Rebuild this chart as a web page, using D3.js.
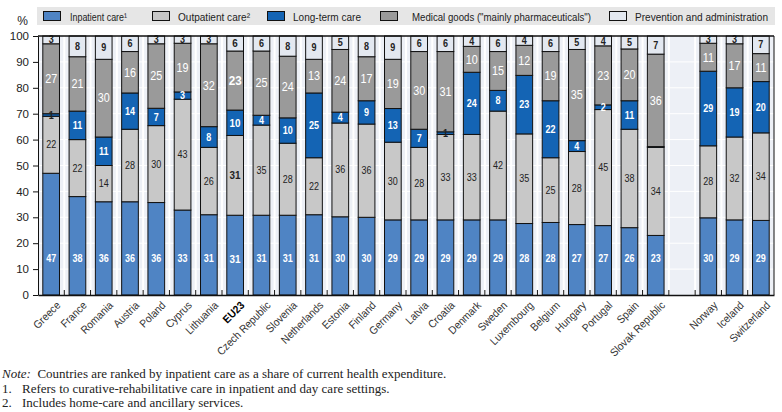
<!DOCTYPE html>
<html><head><meta charset="utf-8">
<script src="https://cdn.jsdelivr.net/npm/d3@7"></script>
<style>
body{margin:0;background:#fff}
svg{display:block}
.sans{font-family:"Liberation Sans",Arial,sans-serif}
.serif{font-family:"Liberation Serif","Times New Roman",serif}
</style>
</head><body>
<svg id="chart" width="782" height="412"></svg>
<script>
// ---- data (shares of current health expenditure, %) ----
const countries = ["Greece","France","Romania","Austria","Poland","Cyprus","Lithuania","EU23","Czech Republic","Slovenia","Netherlands","Estonia","Finland","Germany","Latvia","Croatia","Denmark","Sweden","Luxembourg","Belgium","Hungary","Portugal","Spain","Slovak Republic","","Norway","Iceland","Switzerland"];
const inpatient   = [47,38,36,36,35.7,32.8,31,30.8,30.8,30.8,31,30.2,30,29,29,29,29,29,27.6,28,27.2,26.8,26,23,null,29.8,29,28.8];
const outpatient  = [22,22,14,28,29.7,42.8,26,30.8,34.8,27.8,22,36.2,36,30,28,33,33,42,34.6,25,28.2,44.8,38,34,null,27.8,32,33.8];
const longTerm    = [1,11,11,14,6.7,2.8,8,9.8,3.8,9.8,25,4.2,9,13,7,1,24,8,22.6,22,4.2,1.8,11,0.3,null,28.8,19,19.8];
const medicalGoods= [27,21,30,16,24.9,18.8,32,22.8,24.8,23.8,13,24.2,17,19,30,31,10,15,11.6,19,35.2,22.8,20,35.7,null,10.8,17,10.8];
const prevention  = [3,8,9,6,3,2.8,3,5.8,5.8,7.8,9,5.2,8,9,6,6,4,6,3.6,6,5.2,3.8,5,7,null,2.8,3,6.8];
const seriesKeys  = ["inpatient","outpatient","longTerm","medicalGoods","prevention"];
const seriesNames = ["Inpatient care\u00B9","Outpatient care\u00B2","Long-term care","Medical goods (\"mainly pharmaceuticals\")","Prevention and administration"];
const seriesColors= ["#4f84c4","#c8c8c8","#1464b4","#9a9a9a","#e3e8f0"];
const labelColors = ["#ffffff","#222222","#ffffff","#ffffff","#222222"];
const yTicks = [0,10,20,30,40,50,60,70,80,90,100];
const highlight = "EU23";
const noteLines = [
  ["Note:","  Countries are ranked by inpatient care as a share of current health expenditure."],
  ["1.","Refers to curative-rehabilitative care in inpatient and day care settings."],
  ["2.","Includes home-care and ancillary services."]
];

// ---- build rows ----
const series = {inpatient, outpatient, longTerm, medicalGoods, prevention};
const rows = countries.map((c,i)=>{
  const r = {idx:i, country:c};
  seriesKeys.forEach(k=> r[k] = series[k][i]);
  return r;
}).filter(r=> r.inpatient !== null);

const svg = d3.select("#chart");
const L = 38, R = 774, T = 36, B = 295;

const x = d3.scaleBand().domain(countries.map((c,i)=>i)).range([L,R]).paddingInner(0.365).paddingOuter(0.1825);
const y = d3.scaleLinear().domain([0,100]).range([B,T]).clamp(true);
const step = x.step();

// plot background
svg.append("rect").attr("x",L).attr("y",T).attr("width",R-L).attr("height",B-T).attr("fill","#edf0f6");
const bounds = d3.range(1,countries.length).map(i=> L + i*step);
svg.append("g").selectAll("line").data(bounds).join("line")
  .attr("x1",d=>d).attr("x2",d=>d).attr("y1",T).attr("y2",B)
  .attr("stroke","#ffffff").attr("stroke-width",2);
svg.append("g").selectAll("line").data(yTicks.filter(t=>t>0&&t<100)).join("line")
  .attr("x1",L).attr("x2",R).attr("y1",d=>y(d)).attr("y2",d=>y(d))
  .attr("stroke","#ffffff").attr("stroke-width",1);

// stacks
const stack = d3.stack().keys(seriesKeys)(rows);
const gBars = svg.append("g");
stack.forEach((layer,li)=>{
  gBars.append("g").selectAll("rect").data(layer).join("rect")
    .attr("x",d=>x(d.data.idx))
    .attr("width",x.bandwidth())
    .attr("y",d=>y(d[1]))
    .attr("height",d=>Math.max(0,y(d[0])-y(d[1])))
    .attr("fill",seriesColors[li])
    .attr("stroke","#111")
    .attr("stroke-width",1);
});

// value labels
const fmt = d3.format(".0f");
const sizes = [10,10,10,12,10];
const weights = ["bold","normal","bold","normal","bold"];
const gLab = svg.append("g").attr("class","sans").attr("text-anchor","middle");
stack.forEach((layer,li)=>{
  layer.forEach(d=>{
    const v = d[1]-d[0];
    if (Math.round(v) < 1) return;
    const isHi = d.data.country === highlight;
    const cx = x(d.data.idx)+x.bandwidth()/2;
    const cy = li===0 ? y(14) : (y(d[0])+y(d[1]))/2;
    let color = labelColors[li];
    if (li===2 && v < 1.5) color = "#222";
    gLab.append("text")
      .attr("x", cx)
      .attr("y", cy)
      .attr("dy","0.36em")
      .attr("font-size", isHi ? sizes[li]+1 : sizes[li])
      .attr("font-weight", isHi ? "bold" : weights[li])
      .attr("fill", color)
      .attr("transform", `translate(${cx},0) scale(0.9,1) translate(${-cx},0)`)
      .text(fmt(v));
  });
});

// frame lines
svg.append("line").attr("x1",L).attr("x2",R).attr("y1",T).attr("y2",T).attr("stroke","#111").attr("stroke-width",1.5);
svg.append("line").attr("x1",R).attr("x2",R).attr("y1",T).attr("y2",B).attr("stroke","#111").attr("stroke-width",1);

// y axis
const yAxis = svg.append("g").attr("transform",`translate(${L},0)`).attr("class","sans")
  .call(d3.axisLeft(y).tickValues(yTicks).tickSize(5).tickSizeOuter(0).tickPadding(4));
yAxis.selectAll("text").attr("font-size",11.5).attr("fill","#222").attr("font-family",null);
yAxis.selectAll("line,path").attr("stroke","#111");

// x axis
const xAxis = svg.append("g").attr("transform",`translate(0,${B})`).attr("class","sans")
  .call(d3.axisBottom(x).tickFormat(i=>countries[i]).tickSize(0).tickSizeOuter(0));
xAxis.select(".domain").attr("stroke","#111").attr("stroke-width",1.5);
xAxis.selectAll("text")
  .attr("font-family",null)
  .attr("font-size",11)
  .attr("fill",i=>countries[i]===highlight ? "#000" : "#333")
  .attr("font-weight",i=>countries[i]===highlight ? "bold" : "normal")
  .attr("text-anchor","end")
  .attr("transform","translate(4,5) rotate(-45) scale(0.92,1)")
  .attr("dy","0.5em").attr("dx","0");
svg.append("g").selectAll("line").data(bounds).join("line")
  .attr("x1",d=>d).attr("x2",d=>d).attr("y1",B-5).attr("y2",B)
  .attr("stroke","#111").attr("stroke-width",1);

// % label
svg.append("text").attr("class","sans").attr("x",28).attr("y",25).attr("text-anchor","end")
  .attr("font-size",12).attr("fill","#222").text("%");

// legend
svg.append("rect").attr("x",37).attr("y",7).attr("width",738).attr("height",18).attr("fill","#e6e6e6");
const swX = [43,152,267,380,609];
const txX = [70,178,293,412,635];
const txW = [57,72,68,179,133];
const lg = svg.append("g").attr("class","sans");
seriesNames.forEach((n,i)=>{
  lg.append("rect").attr("x",swX[i]+0.5).attr("y",11.5).attr("width",17).attr("height",9)
    .attr("fill",seriesColors[i]).attr("stroke","#111");
  lg.append("text").attr("x",txX[i]).attr("y",20.5).attr("font-size",11).attr("fill","#222")
    .attr("textLength",txW[i]).attr("lengthAdjust","spacingAndGlyphs").text(n);
});

// notes
const ng = svg.append("g").attr("class","serif").attr("font-size",13).attr("fill","#222");
noteLines.forEach((ln,i)=>{
  const yy = 378 + i*14.5;
  if (i===0) {
    const t = ng.append("text").attr("x",2).attr("y",yy).attr("xml:space","preserve");
    t.append("tspan").attr("font-style","italic").text(ln[0]);
    t.append("tspan").text(ln[1]);
  } else {
    ng.append("text").attr("x",2).attr("y",yy).text(ln[0]);
    ng.append("text").attr("x",22).attr("y",yy).text(ln[1]);
  }
});
</script>
</body></html>
